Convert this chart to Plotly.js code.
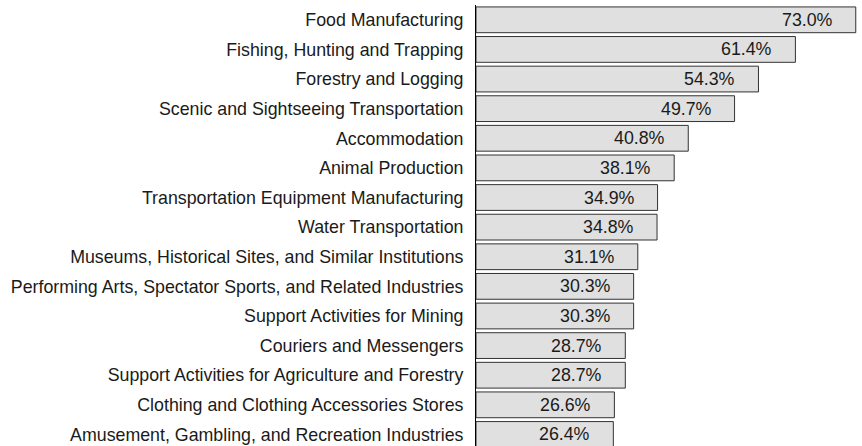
<!DOCTYPE html>
<html>
<head>
<meta charset="utf-8">
<script src="https://cdn.plot.ly/plotly-3.0.1.min.js"></script>
<style>html,body{margin:0;padding:0;background:#fff;overflow:hidden;}#chart{width:862px;height:446px;}</style>
</head>
<body>
<div id="chart"></div>
<script>
const categories = [
  "Food Manufacturing",
  "Fishing, Hunting and Trapping",
  "Forestry and Logging",
  "Scenic and Sightseeing Transportation",
  "Accommodation",
  "Animal Production",
  "Transportation Equipment Manufacturing",
  "Water Transportation",
  "Museums, Historical Sites, and Similar Institutions",
  "Performing Arts, Spectator Sports, and Related Industries",
  "Support Activities for Mining",
  "Couriers and Messengers",
  "Support Activities for Agriculture and Forestry",
  "Clothing and Clothing Accessories Stores",
  "Amusement, Gambling, and Recreation Industries"
];
const values = [73.0, 61.4, 54.3, 49.7, 40.8, 38.1, 34.9, 34.8, 31.1, 30.3, 30.3, 28.7, 28.7, 26.6, 26.4];
const valueLabels = values.map(v => v.toFixed(1) + "%");

const font = "Liberation Sans, Arial, sans-serif";

const trace = {
  type: "bar",
  orientation: "h",
  x: values,
  y: categories,
  marker: {color: "#e0e0e0", line: {color: "#333333", width: 1}},
  width: 0.87,
  hoverinfo: "none"
};

const annotations = values.map((v, i) => ({
  x: v, y: categories[i], xref: "x", yref: "y",
  text: valueLabels[i], showarrow: false,
  xanchor: "right", xshift: -21,
  font: {family: font, size: 17.8, color: "#1a1a1a"}
}));

const layout = {
  width: 862, height: 446,
  margin: {l: 476, r: 0, t: 5, b: 0},
  paper_bgcolor: "#ffffff", plot_bgcolor: "#ffffff",
  showlegend: false,
  xaxis: {range: [0, 74.2], visible: false, fixedrange: true},
  yaxis: {
    type: "category",
    range: [14.39, -0.5],
    showline: true, linecolor: "#000000", linewidth: 1,
    showgrid: false, zeroline: false, ticks: "",
    ticklabelstandoff: 8,
    tickfont: {family: font, size: 17.8, color: "#1a1a1a"}
  },
  annotations: annotations
};

Plotly.newPlot("chart", [trace], layout, {displayModeBar: false, staticPlot: true});
</script>
</body>
</html>
